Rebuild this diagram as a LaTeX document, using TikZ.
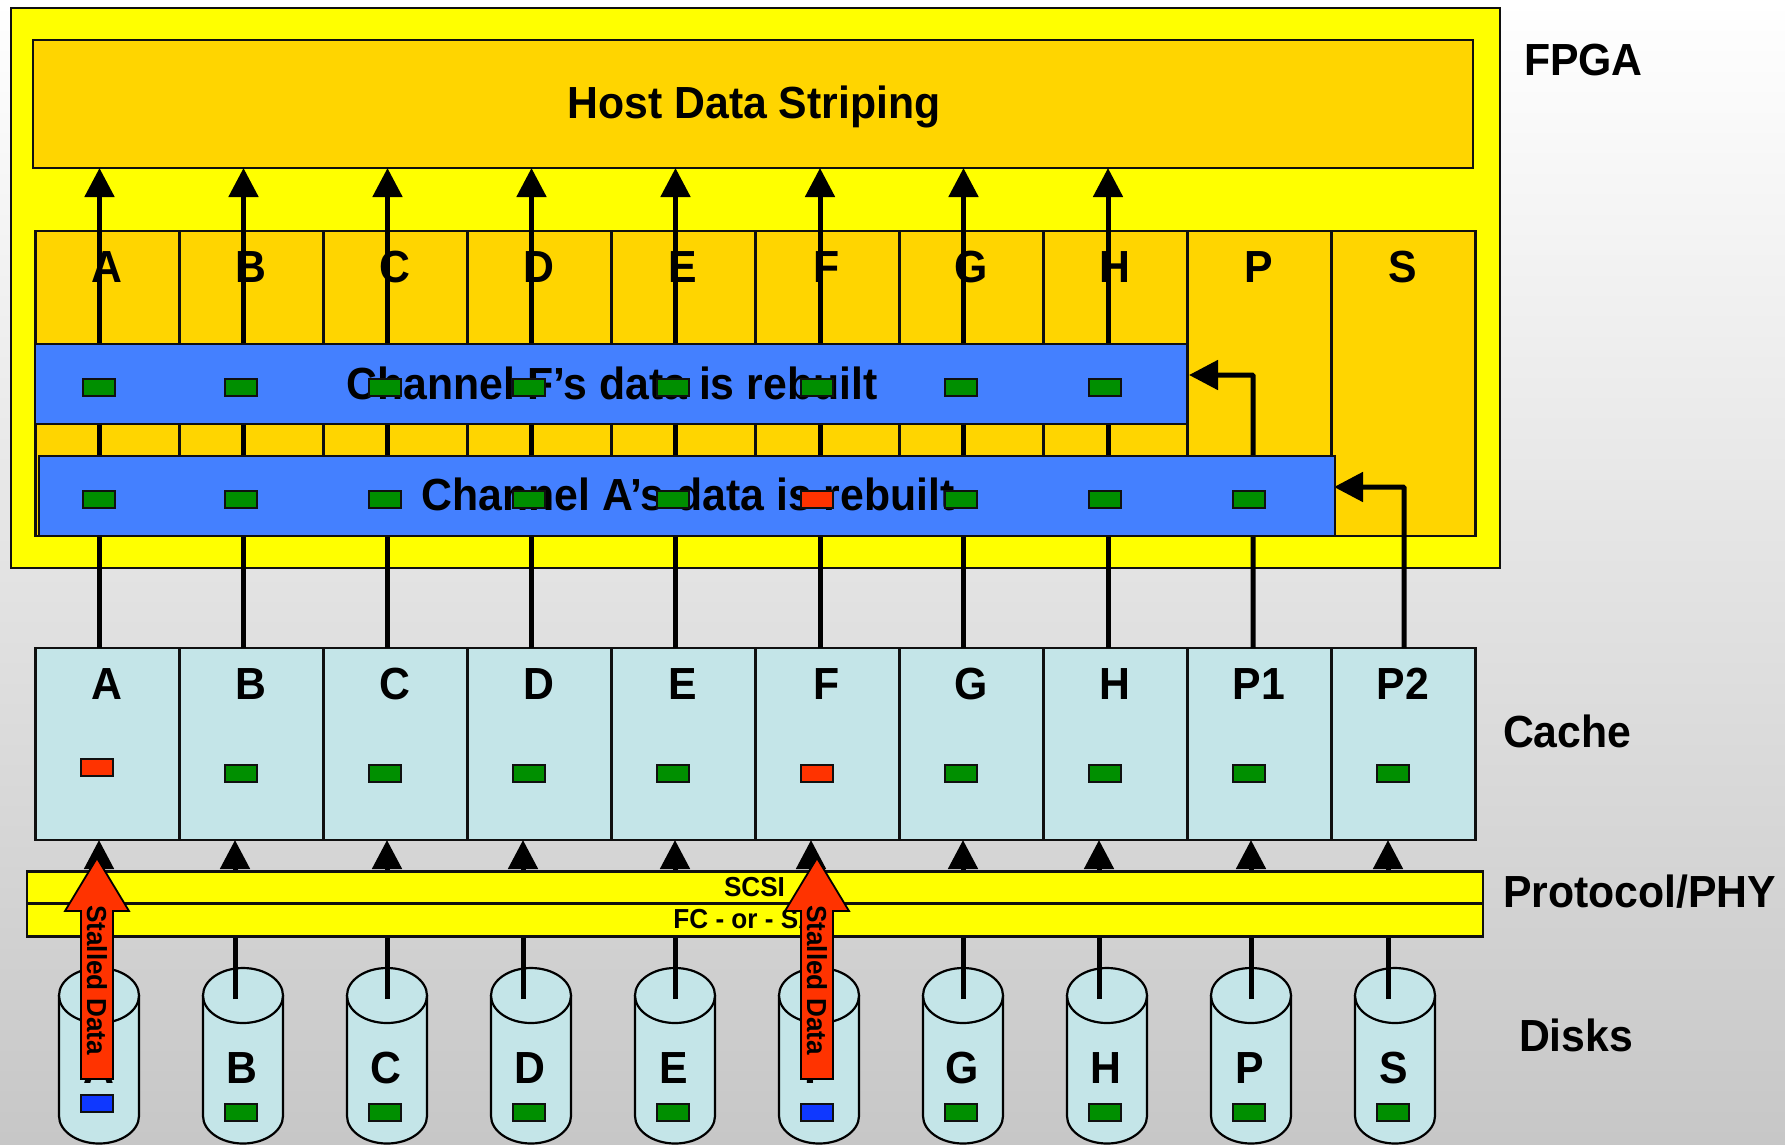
\documentclass[tikz,border=0pt]{standalone}
\usepackage{fontspec}
\setmainfont[FakeStretch=0.95]{Liberation Sans}
\usetikzlibrary{arrows.meta}
\definecolor{fpgay}{HTML}{FFFF00}
\definecolor{oran}{HTML}{FFD500}
\definecolor{barb}{HTML}{4480FF}
\definecolor{cachec}{HTML}{C4E5E8}
\definecolor{chipg}{HTML}{008F00}
\definecolor{chipr}{HTML}{FF3300}
\definecolor{chipb}{HTML}{0F38FF}
\definecolor{edge}{HTML}{101010}
\tikzset{
  panel/.style={draw=edge,line width=2.2pt,inner sep=0pt,outer sep=0pt},
  colcell/.style={panel,fill=oran,minimum width=144pt,minimum height=305pt},
  cachecell/.style={panel,fill=cachec,minimum width=144pt,minimum height=192pt},
  chip/.style={draw=edge,line width=2pt,minimum width=32pt,minimum height=17pt,inner sep=0pt,outer sep=0pt},
  big/.style={inner sep=0pt,outer sep=0pt,anchor=base,font=\fontsize{45}{50}\selectfont\bfseries},
  small/.style={inner sep=0pt,outer sep=0pt,anchor=base,font=\fontsize{27.5}{30}\selectfont\bfseries},
  conn/.style={line width=5pt,draw=black,-{Triangle[length=29pt,width=29pt]}},
  diskbody/.style={draw=black,line width=2.2pt,fill=cachec},
  redarrow/.style={draw=black,line width=1.8pt,fill=chipr},
}
\begin{document}
\begin{tikzpicture}[x=1pt,y=-1pt]
\useasboundingbox (0,0) rectangle (1785,1144);
\shade[top color=white,middle color=black!9,bottom color=black!22] (0,0) rectangle (1785,1144);
% FPGA
\node[panel,fill=fpgay,minimum width=1489pt,minimum height=560pt] (fpga) at (755.5,288) {};
\node[panel,fill=oran,minimum width=1440pt,minimum height=128pt] (host) at (753,104) {};
\node[big] (hosttext) at (754,118.5) {Host Data Striping};
% columns
\foreach \n/\cx/\lx/\lab in {0/107.5/107/A,1/251.5/251/B,2/395.5/395/C,3/539.5/539/D,4/683.5/683/E,5/827.5/827/F,6/971.5/971/G,7/1115.5/1115/H,8/1259.5/1259/P,9/1403.5/1403/S}{
  \node[colcell] (col\n) at (\cx,383.5) {};
  \node[big] (coll\n) at (\lx,282) {\lab};
}
% cache
\foreach \n/\cx/\lx/\lab in {0/107.5/107/A,1/251.5/251/B,2/395.5/395/C,3/539.5/539/D,4/683.5/683/E,5/827.5/827/F,6/971.5/971/G,7/1115.5/1115/H,8/1259.5/1259/P1,9/1403.5/1403/P2}{
  \node[cachecell] (cache\n) at (\cx,744) {};
  \node[big] (cachel\n) at (\lx,699) {\lab};
}
% lines cache -> host
\foreach \n/\lx in {0/99.5,1/243.5,2/387.5,3/531.5,4/675.5,5/820,6/963.5,7/1108}{
  \coordinate (up\n) at (\lx,648);
  \coordinate (tip\n) at (\lx,168);
  \draw[conn] (up\n) -- (tip\n);
}
% parity lines
\coordinate (upP) at (1253,648);
\coordinate (upS) at (1404,648);
\coordinate (finF) at (1189,375);
\coordinate (finA) at (1334,487);
\draw[conn,rounded corners=1pt] (upP) |- (finF);
\draw[conn,rounded corners=1pt] (upS) |- (finA);
% blue bars
\node[panel,fill=barb,minimum width=1152pt,minimum height=80pt] (barF) at (611,384) {};
\node[panel,fill=barb,minimum width=1296pt,minimum height=80pt] (barA) at (687,496) {};
\node[big] (barFt) at (612,399) {Channel F’s data is rebuilt};
\node[big] (barAt) at (688,510.5) {Channel A’s data is rebuilt};
\foreach \n/\cx in {0/99,1/241,2/385,3/529,4/673,5/817,6/961,7/1105}{
  \node[chip,fill=chipg] (rowF\n) at (\cx,387) {};
}
\foreach \n/\cx/\cc in {0/99/chipg,1/241/chipg,2/385/chipg,3/529/chipg,4/673/chipg,5/817/chipr,6/961/chipg,7/1105/chipg,8/1249/chipg}{
  \node[chip,fill=\cc] (rowA\n) at (\cx,499) {};
}
% cache chips
\foreach \n/\cx/\cy/\cc in {0/97/767/chipr,1/241/773/chipg,2/385/773/chipg,3/529/773/chipg,4/673/773/chipg,5/817/773/chipr,6/961/773/chipg,7/1105/773/chipg,8/1249/773/chipg,9/1393/773/chipg}{
  \node[chip,fill=\cc] (cchip\n) at (\cx,\cy) {};
}
% disks
\foreach \n/\cx/\lx/\lab in {0/99/99/A,1/243/242/B,2/387/386/C,3/531/530/D,4/675/674/E,5/819/818/F,6/963/962/G,7/1107/1106/H,8/1251/1250/P,9/1395/1394/S}{
  \path[diskbody] (\cx-40,996) -- (\cx-40,1116)
    .. controls (\cx-40,1131) and (\cx-22,1143.5) .. (\cx,1143.5)
    .. controls (\cx+22,1143.5) and (\cx+40,1131) .. (\cx+40,1116) -- (\cx+40,996) -- cycle;
  \draw[diskbody] (\cx,995.5) ellipse [x radius=40pt,y radius=27.5pt];
  \node[big] (diskl\n) at (\lx,1083) {\lab};
}
\foreach \n/\cx/\cy/\cc in {0/97/1103/chipb,1/241/1112/chipg,2/385/1112/chipg,3/529/1112/chipg,4/673/1112/chipg,5/817/1112/chipb,6/961/1112/chipg,7/1105/1112/chipg,8/1249/1112/chipg,9/1393/1112/chipg}{
  \node[chip,fill=\cc] (dchip\n) at (\cx,\cy) {};
}
% disk -> cache connectors
\foreach \n/\lx in {0/99,1/235,2/387,3/523,4/675,5/811,6/963,7/1099,8/1251,9/1388}{
  \coordinate (dtop\n) at (\lx,999);
  \coordinate (ctop\n) at (\lx,840);
  \draw[conn] (dtop\n) -- (ctop\n);
}
% protocol
\node[panel,fill=fpgay,minimum width=1456pt,minimum height=32pt] (scsi) at (755,887.5) {};
\node[panel,fill=fpgay,minimum width=1456pt,minimum height=33pt] (fc) at (755,920) {};
\node[small] (scsit) at (754.5,896) {SCSI};
\node[small] (fct) at (754,928) {FC - or - SAS};
% stalled arrows
\foreach \n/\cx in {a/97,f/817}{
  \draw[redarrow] (\cx,858) -- (\cx+32,911) -- (\cx+16,911) -- (\cx+16,1079) -- (\cx-16,1079) -- (\cx-16,911) -- (\cx-32,911) -- cycle;
  \node[small,anchor=center,rotate=-90] (stall\n) at (\cx,980) {Stalled Data};
}
% side labels
\node[big,anchor=base west] (lfpga) at (1524,75) {FPGA};
\node[big,anchor=base west] (lcache) at (1503,747) {Cache};
\node[big,anchor=base west] (lproto) at (1503,907) {Protocol/PHY};
\node[big,anchor=base west] (ldisks) at (1519,1051) {Disks};
\end{tikzpicture}
\end{document}
